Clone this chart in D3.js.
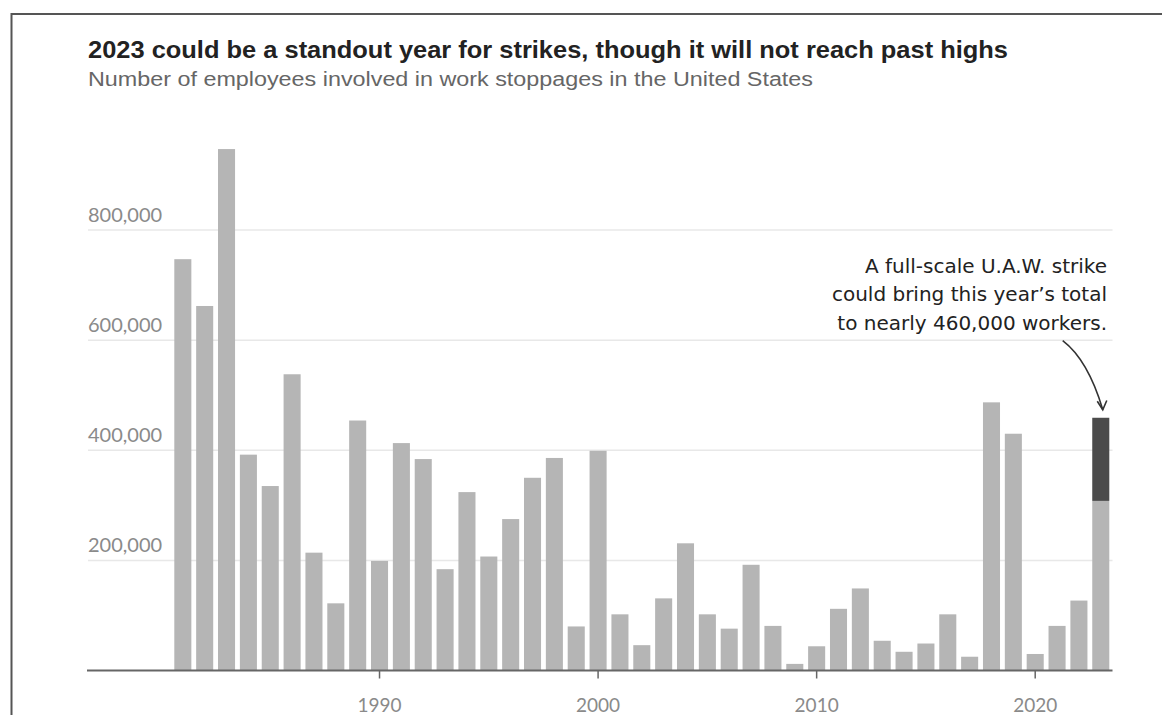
<!DOCTYPE html>
<html>
<head>
<meta charset="utf-8">
<script src="https://cdn.jsdelivr.net/npm/d3@7"></script>
<style>
  body { margin: 0; background: #fff; }
  svg { display: block; }
  .title { font-family: "Liberation Sans", Arial, sans-serif; font-weight: bold; fill: #222; }
  .subtitle { font-family: "Liberation Sans", Arial, sans-serif; fill: #666; }
  .ylabel, .x-axis text { font-family: "Lato", "Liberation Sans", sans-serif; fill: #8a8a8a; }
  .note { font-family: "DejaVu Sans", "Liberation Sans", sans-serif; fill: #222; }
</style>
</head>
<body>
<svg id="chart" width="1162" height="715"></svg>
<script>
// work stoppages, number of employees involved
var years = d3.range(1981, 2024);
var workers = [747000, 662000, 947000, 392000, 335000, 538000, 214000, 122000, 454000, 199000,
	413000, 384000, 184000, 324000, 207000, 275000, 350000, 386000, 80000, 399000,
	102000, 46000, 131000, 231000, 102000, 76000, 192000, 81000, 12000, 44000,
	112000, 149000, 54000, 34000, 49000, 102000, 25000, 487000, 430000, 30000,
	81000, 127000, 308000];
// extra workers if the U.A.W. strike goes full scale (2023 only)
var uawExtra = [{year: 2023, base: 308000, extra: 151000}];
var yTicks = [200000, 400000, 600000, 800000];
var xTicks = [1990, 2000, 2010, 2020];

var svg = d3.select("#chart"),
	margin = {top: 230, left: 88, bottom: 44.5, right: 50},
	width = +svg.attr("width"),
	height = +svg.attr("height");

var data = years.map((y, i) => ({year: y, value: workers[i]}));

var x = d3.scaleBand()
	.domain(years)
	.range([171.9, 1111.7])
	.paddingInner(0.22)
	.paddingOuter(0.11);

var y = d3.scaleLinear()
	.domain([0, 800000])
	.range([height - margin.bottom, margin.top]);

// frame
svg.append("path")
	.attr("d", `M11.5,${height} V14 H${width}`)
	.attr("fill", "none")
	.attr("stroke", "#555")
	.attr("stroke-width", 2);

// titles
svg.append("text")
	.attr("class", "title")
	.attr("x", 88).attr("y", 58)
	.style("font-size", "24px")
	.attr("textLength", 920).attr("lengthAdjust", "spacingAndGlyphs")
	.text("2023 could be a standout year for strikes, though it will not reach past highs");

svg.append("text")
	.attr("class", "subtitle")
	.attr("x", 88).attr("y", 86)
	.style("font-size", "20px")
	.attr("textLength", 725).attr("lengthAdjust", "spacingAndGlyphs")
	.text("Number of employees involved in work stoppages in the United States");

// gridlines + y labels
var grid = svg.append("g").attr("class", "grid");
grid.selectAll("line")
	.data(yTicks)
	.enter().append("line")
	.attr("x1", margin.left)
	.attr("x2", 1112.5)
	.attr("y1", d => y(d))
	.attr("y2", d => y(d))
	.attr("stroke", "#e8e8e8")
	.attr("stroke-width", 1.5);

grid.selectAll("text")
	.data(yTicks)
	.enter().append("text")
	.attr("class", "ylabel")
	.attr("x", margin.left)
	.attr("y", d => y(d) - 8)
	.style("font-size", "20px")
	.text(d => d3.format(",")(d));

// bars
svg.append("g").selectAll("rect")
	.data(data)
	.enter().append("rect")
	.attr("x", d => x(d.year))
	.attr("width", x.bandwidth())
	.attr("y", d => y(d.value))
	.attr("height", d => y(0) - y(d.value))
	.attr("fill", "#b5b5b5");

svg.append("g").selectAll("rect")
	.data(uawExtra)
	.enter().append("rect")
	.attr("x", d => x(d.year))
	.attr("width", x.bandwidth())
	.attr("y", d => y(d.base + d.extra))
	.attr("height", d => y(d.base) - y(d.base + d.extra))
	.attr("fill", "#4b4b4b");

// x axis
var xAxis = svg.append("g")
	.attr("class", "x-axis")
	.attr("transform", `translate(0,${y(0)})`)
	.call(d3.axisBottom(x).tickValues(xTicks).tickSize(8).tickSizeOuter(0));
xAxis.select(".domain").remove();
xAxis.selectAll(".tick line").attr("stroke", "#666").attr("stroke-width", 1.5);
xAxis.selectAll(".tick text")
	.attr("y", 41.5).attr("dy", 0)
	.style("font-size", "19px");

svg.append("line")
	.attr("x1", 87).attr("x2", 1112.5)
	.attr("y1", y(0)).attr("y2", y(0))
	.attr("stroke", "#666")
	.attr("stroke-width", 2);

// annotation
var note = ["A full-scale U.A.W. strike", "could bring this year\u2019s total", "to nearly 460,000 workers."];
svg.append("text")
	.attr("class", "note")
	.attr("text-anchor", "end")
	.style("font-size", "20px")
	.selectAll("tspan")
	.data(note)
	.enter().append("tspan")
	.attr("x", 1107)
	.attr("y", (d, i) => 273 + i * 28.4)
	.text(d => d);

var tip = [x(2023) + x.bandwidth() / 2 + 2, y(459000) - 8];
svg.append("path")
	.attr("d", `M1062.7,340.7 Q1088,360 ${tip[0]},${tip[1]}`)
	.attr("fill", "none")
	.attr("stroke", "#333")
	.attr("stroke-width", 1.6);
svg.append("path")
	.attr("d", `M${tip[0] - 5.5},${tip[1] - 8.5} L${tip[0]},${tip[1]} L${tip[0] + 4},${tip[1] - 9.3}`)
	.attr("fill", "none")
	.attr("stroke", "#333")
	.attr("stroke-width", 1.6);
</script>
</body>
</html>
